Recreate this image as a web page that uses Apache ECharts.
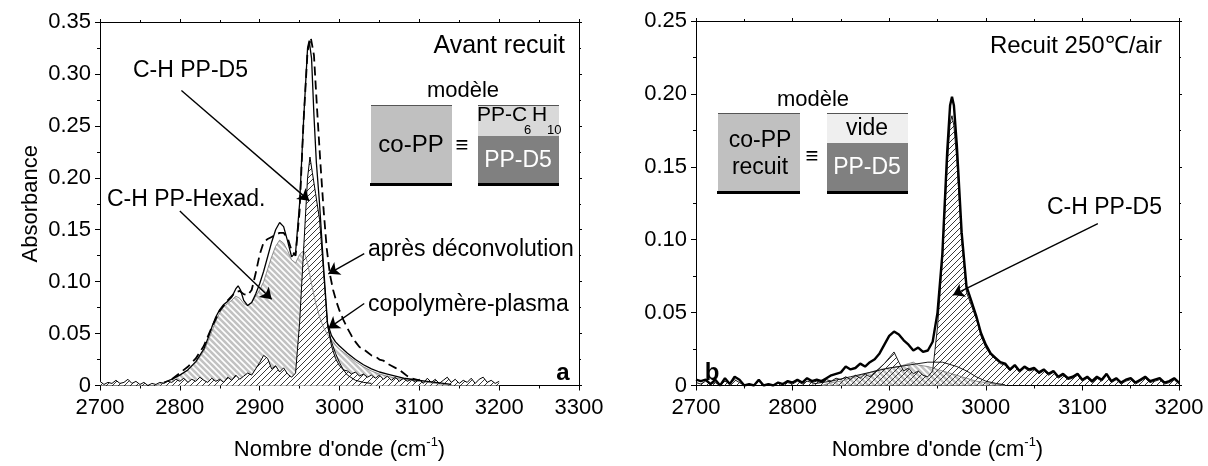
<!DOCTYPE html>
<html><head><meta charset="utf-8">
<script src="https://cdn.jsdelivr.net/npm/echarts@6/dist/echarts.min.js"></script>
<style>html,body{margin:0;padding:0;background:#fff}#c{width:1208px;height:466px}</style>
</head><body><div id="c"></div>
<script>
// ---------- DATA (wavenumber cm-1, absorbance) ----------
// Panel a : "Avant recuit"
const aMeasured = [[2780,0.003],[2790,0.006],[2800,0.010],[2810,0.015],[2820,0.023],[2830,0.035],[2835,0.045],[2840,0.056],[2845,0.066],[2850,0.073],[2855,0.078],[2860,0.081],[2865,0.085],[2870,0.093],[2873,0.096],[2876,0.092],[2880,0.082],[2885,0.077],[2890,0.080],[2895,0.088],[2900,0.098],[2905,0.110],[2910,0.124],[2915,0.138],[2920,0.150],[2925,0.157],[2930,0.153],[2935,0.139],[2940,0.124],[2945,0.128],[2950,0.175],[2955,0.255],[2960,0.325],[2962,0.332],[2965,0.315],[2968,0.260],[2971,0.215],[2975,0.175],[2980,0.115],[2985,0.060],[2990,0.048],[2995,0.042],[3000,0.038],[3010,0.031],[3020,0.025],[3030,0.020],[3040,0.016],[3050,0.013],[3060,0.011],[3070,0.009],[3080,0.007],[3090,0.006],[3100,0.005],[3110,0.004],[3120,0.003],[3130,0.002],[3140,0.001]];
const aDeconv = [[2790,0.006],[2800,0.012],[2810,0.018],[2820,0.026],[2830,0.038],[2840,0.056],[2850,0.072],[2860,0.082],[2870,0.090],[2875,0.091],[2880,0.088],[2885,0.087],[2890,0.092],[2895,0.108],[2900,0.126],[2905,0.138],[2910,0.141],[2915,0.143],[2920,0.145],[2925,0.147],[2930,0.147],[2935,0.142],[2940,0.130],[2945,0.125],[2950,0.168],[2955,0.255],[2960,0.322],[2964,0.335],[2968,0.318],[2972,0.265],[2976,0.215],[2980,0.170],[2984,0.132],[2988,0.107],[2992,0.092],[2996,0.081],[3000,0.072],[3005,0.063],[3010,0.055],[3015,0.048],[3020,0.042],[3025,0.037],[3030,0.035],[3035,0.032],[3040,0.029],[3045,0.028],[3050,0.025],[3055,0.024],[3060,0.021],[3065,0.019],[3070,0.017],[3075,0.015],[3080,0.012],[3085,0.009],[3090,0.007],[3095,0.006],[3100,0.005]];
const aHexad = [[2770,0.000],[2780,0.003],[2790,0.006],[2800,0.010],[2810,0.015],[2820,0.022],[2830,0.033],[2835,0.042],[2840,0.052],[2845,0.062],[2850,0.070],[2855,0.076],[2860,0.079],[2865,0.082],[2870,0.086],[2875,0.084],[2880,0.079],[2885,0.077],[2890,0.080],[2895,0.086],[2900,0.092],[2905,0.100],[2910,0.112],[2915,0.124],[2920,0.134],[2925,0.140],[2930,0.137],[2935,0.130],[2940,0.121],[2945,0.118],[2950,0.126],[2955,0.130],[2960,0.118],[2965,0.098],[2970,0.080],[2975,0.066],[2980,0.056],[2985,0.049],[2990,0.044],[2995,0.039],[3000,0.035],[3010,0.029],[3020,0.023],[3030,0.018],[3040,0.014],[3050,0.011],[3060,0.009],[3070,0.007],[3080,0.006],[3090,0.005],[3100,0.004],[3110,0.003],[3120,0.002],[3130,0.001],[3140,0.000]];
const aD5 = [[2700,0.004],[2705,0.001],[2710,0.003],[2715,0.002],[2720,0.005],[2725,0.002],[2730,0.003],[2735,0.006],[2740,0.002],[2745,0.004],[2750,0.001],[2755,0.003],[2760,0.000],[2765,0.002],[2770,0.001],[2775,0.003],[2780,0.002],[2785,0.004],[2790,0.003],[2795,0.006],[2800,0.004],[2805,0.007],[2810,0.003],[2815,0.006],[2820,0.004],[2825,0.008],[2830,0.005],[2835,0.003],[2840,0.007],[2845,0.004],[2850,0.006],[2855,0.003],[2860,0.008],[2865,0.005],[2870,0.010],[2875,0.006],[2880,0.009],[2885,0.012],[2890,0.010],[2895,0.016],[2900,0.022],[2905,0.029],[2910,0.026],[2915,0.016],[2920,0.019],[2925,0.013],[2930,0.017],[2935,0.011],[2940,0.008],[2945,0.012],[2950,0.060],[2955,0.130],[2960,0.200],[2963,0.220],[2966,0.205],[2970,0.185],[2975,0.160],[2980,0.110],[2985,0.058],[2990,0.038],[2995,0.026],[3000,0.019],[3005,0.015],[3010,0.014],[3015,0.011],[3020,0.013],[3025,0.009],[3030,0.011],[3035,0.008],[3040,0.010],[3045,0.007],[3050,0.010],[3055,0.006],[3060,0.009],[3065,0.005],[3070,0.008],[3075,0.004],[3080,0.007],[3085,0.004],[3090,0.006],[3095,0.003],[3100,0.006],[3105,0.002],[3110,0.007],[3115,0.003],[3120,0.006],[3125,0.002],[3130,0.005],[3135,0.008],[3140,0.003],[3145,0.006],[3150,0.002],[3155,0.005],[3160,0.003],[3165,0.007],[3170,0.002],[3175,0.006],[3180,0.008],[3185,0.003],[3190,0.005],[3195,0.002],[3200,0.004]];
const aD5Fit = [[2985,0.058],[2990,0.042],[2995,0.031],[3000,0.022],[3005,0.015],[3010,0.010],[3020,0.005],[3030,0.003],[3040,0.002]];

// Panel b : "Recuit 250°C/air"
const bMeasured = [[2700,0.004],[2705,0.003],[2710,0.004],[2715,0.001],[2720,0.004],[2725,0.000],[2730,0.005],[2735,0.001],[2740,0.006],[2745,0.004],[2750,0.000],[2755,0.001],[2760,0.000],[2765,0.004],[2770,0.000],[2775,0.001],[2780,0.000],[2785,0.002],[2790,0.001],[2795,0.003],[2800,0.002],[2805,0.004],[2810,0.002],[2815,0.005],[2820,0.003],[2825,0.004],[2830,0.003],[2835,0.005],[2840,0.007],[2845,0.008],[2850,0.009],[2855,0.013],[2860,0.011],[2865,0.012],[2870,0.015],[2875,0.013],[2880,0.016],[2885,0.018],[2890,0.022],[2895,0.028],[2900,0.034],[2905,0.037],[2910,0.035],[2915,0.031],[2920,0.028],[2925,0.024],[2930,0.026],[2935,0.023],[2940,0.024],[2945,0.030],[2950,0.050],[2955,0.090],[2960,0.160],[2963,0.192],[2965,0.198],[2967,0.192],[2970,0.165],[2975,0.105],[2980,0.068],[2985,0.058],[2990,0.048],[2995,0.036],[3000,0.028],[3005,0.022],[3010,0.019],[3015,0.016],[3020,0.015],[3025,0.011],[3030,0.014],[3035,0.010],[3040,0.013],[3045,0.011],[3050,0.012],[3055,0.009],[3060,0.011],[3065,0.008],[3070,0.010],[3075,0.006],[3080,0.008],[3085,0.005],[3090,0.006],[3095,0.008],[3100,0.004],[3105,0.006],[3110,0.003],[3115,0.006],[3120,0.004],[3125,0.008],[3130,0.003],[3135,0.005],[3140,0.002],[3145,0.004],[3150,0.005],[3155,0.002],[3160,0.004],[3165,0.006],[3170,0.003],[3175,0.004],[3180,0.005],[3185,0.002],[3190,0.003],[3195,0.005],[3200,0.002]];
const bD5 = [[2700,0.002],[2705,0.001],[2710,0.003],[2715,0.001],[2720,0.002],[2725,0.000],[2730,0.003],[2735,0.001],[2740,0.004],[2745,0.002],[2750,0.000],[2755,0.001],[2760,0.000],[2765,0.003],[2770,0.000],[2775,0.001],[2780,0.000],[2785,0.002],[2790,0.001],[2795,0.002],[2800,0.001],[2805,0.003],[2810,0.001],[2815,0.003],[2820,0.002],[2825,0.003],[2830,0.002],[2835,0.004],[2840,0.003],[2845,0.005],[2850,0.004],[2855,0.006],[2860,0.004],[2865,0.007],[2870,0.005],[2875,0.008],[2880,0.006],[2885,0.009],[2890,0.012],[2895,0.015],[2900,0.019],[2905,0.023],[2910,0.016],[2915,0.010],[2920,0.012],[2925,0.008],[2930,0.010],[2935,0.007],[2940,0.006],[2945,0.010],[2950,0.040],[2955,0.085],[2960,0.150],[2963,0.180],[2965,0.185],[2967,0.178],[2970,0.155],[2975,0.100],[2980,0.064],[2985,0.055],[2990,0.046],[2995,0.034],[3000,0.026],[3005,0.021],[3010,0.018],[3015,0.015],[3020,0.014],[3025,0.010],[3030,0.013],[3035,0.009],[3040,0.012],[3045,0.010],[3050,0.011],[3055,0.008],[3060,0.010],[3065,0.007],[3070,0.009],[3075,0.005],[3080,0.007],[3085,0.004],[3090,0.005],[3095,0.007],[3100,0.003],[3105,0.005],[3110,0.002],[3115,0.005],[3120,0.003],[3125,0.007],[3130,0.002],[3135,0.004],[3140,0.001],[3145,0.003],[3150,0.004],[3155,0.001],[3160,0.003],[3165,0.005],[3170,0.002],[3175,0.003],[3180,0.004],[3185,0.001],[3190,0.002],[3195,0.004],[3200,0.001]];
const bBroad = [[2830,0.000],[2840,0.002],[2850,0.003],[2860,0.005],[2870,0.007],[2880,0.009],[2890,0.011],[2900,0.012],[2910,0.013],[2920,0.015],[2925,0.016],[2930,0.014],[2940,0.013],[2950,0.011],[2960,0.009],[2970,0.007],[2980,0.005],[2990,0.003],[3000,0.002],[3010,0.001],[3020,0.000]];
const bSmooth = [[2820,0.001],[2840,0.003],[2860,0.006],[2880,0.009],[2900,0.012],[2920,0.014],[2940,0.016],[2955,0.016],[2970,0.013],[2980,0.010],[2990,0.006],[3000,0.003],[3010,0.0015],[3020,0.0005]];

// axis ranges / ticks
const aXRange = [2700, 3300], bXRange = [2700, 3200], xStep = 100;
const aYRange = [0, 0.35], bYRange = [0, 0.25], yStep = 0.05;

// annotation arrows [from, to] in data units
const aArrows = [
  [[2802, 0.284], [2962, 0.178]],
  [[2800, 0.168], [2915, 0.083]],
  [[3031, 0.127], [2986, 0.1075]],
  [[3031, 0.079], [2986, 0.055]]
];
const bArrows = [[[3116, 0.111], [2966, 0.062]]];

// ---------- STYLE ----------
const FONT = '"Liberation Sans", Arial, sans-serif';
function hatch(bg, fg, dir, size, lw) {
  const c = document.createElement('canvas'); c.width = size; c.height = size;
  const g = c.getContext('2d');
  if (bg) { g.fillStyle = bg; g.fillRect(0, 0, size, size); }
  g.strokeStyle = fg; g.lineWidth = lw; g.beginPath();
  if (dir === '/') {
    g.moveTo(0, size); g.lineTo(size, 0);
    g.moveTo(-2, 2); g.lineTo(2, -2);
    g.moveTo(size - 2, size + 2); g.lineTo(size + 2, size - 2);
  } else {
    g.moveTo(0, 0); g.lineTo(size, size);
    g.moveTo(-2, size - 2); g.lineTo(2, size + 2);
    g.moveTo(size - 2, -2); g.lineTo(size + 2, 2);
  }
  g.stroke();
  return c;
}
const grayHatch = { image: hatch('#c2c2c2', '#ffffff', '\\', 6, 1.6), repeat: 'repeat' };
const blackHatchW = { image: hatch('#ffffff', '#222222', '/', 6, 0.9), repeat: 'repeat' };
const blackHatchT = { image: hatch(null, '#222222', '/', 6, 0.9), repeat: 'repeat' };

function xAx(grid, range, main) {
  return {
    type: 'value', gridIndex: grid, min: range[0], max: range[1], interval: xStep,
    position: main ? 'bottom' : 'top',
    axisLine: { show: true, onZero: false, lineStyle: { color: '#000', width: 1 } },
    axisTick: { show: true, inside: false, length: main ? 5 : 3, lineStyle: { color: '#000' } },
    minorTick: { show: true, splitNumber: 2, length: main ? 3 : 2, lineStyle: { color: '#000' } },
    splitLine: { show: false },
    axisLabel: { show: main, color: '#000', fontSize: 22, fontFamily: FONT, margin: 11,
      formatter: v => String(Math.round(v)) },
    name: main ? "Nombre d'onde (cm{sup|-1})" : '',
    nameLocation: 'middle', nameGap: 50,
    nameTextStyle: { color: '#000', fontSize: 22, fontFamily: FONT,
      rich: { sup: { fontSize: 13, fontFamily: FONT, color: '#000', padding: [0, 0, 16, 0] } } }
  };
}
function yAx(grid, range, main, name) {
  return {
    type: 'value', gridIndex: grid, min: range[0], max: range[1], interval: yStep,
    position: main ? 'left' : 'right',
    axisLine: { show: true, onZero: false, lineStyle: { color: '#000', width: 1 } },
    axisTick: { show: true, inside: false, length: main ? 5 : 3, lineStyle: { color: '#000' } },
    minorTick: { show: true, splitNumber: 2, length: main ? 3 : 2, lineStyle: { color: '#000' } },
    splitLine: { show: false },
    axisLabel: { show: main, color: '#000', fontSize: 22, fontFamily: FONT, margin: 9,
      formatter: v => (v === 0 ? '0' : v.toFixed(2)) },
    name: name || '', nameLocation: 'middle', nameGap: 58,
    nameTextStyle: { color: '#000', fontSize: 22, fontFamily: FONT }
  };
}
function arrowLine(arr) {
  return {
    silent: true, animation: false, symbol: ['none', 'arrow'], symbolSize: 11,
    label: { show: false },
    lineStyle: { color: '#000', width: 1.4, type: 'solid' },
    emphasis: { disabled: true },
    data: arr.map(a => [{ coord: a[0] }, { coord: a[1] }])
  };
}
function lineS(xi, data, extra) {
  return Object.assign({
    type: 'line', xAxisIndex: xi, yAxisIndex: xi, data: data, showSymbol: false, symbol: 'none',
    silent: true, animation: false, smooth: false
  }, extra);
}

function txt(t, x, y, size, opts) {
  opts = opts || {};
  return { type: 'text', silent: true, z: 100, style: {
    text: t, x: x, y: y, fill: opts.fill || '#000',
    font: (opts.bold ? 'bold ' : '') + size + 'px ' + FONT,
    textAlign: opts.align || 'center', textVerticalAlign: 'middle' } };
}
function box(x, y, w, h, fill) {
  return { type: 'rect', silent: true, z: 90, shape: { x: x, y: y, width: w, height: h }, style: { fill: fill } };
}
function hl(x1, x2, y, color, w) {
  return { type: 'line', silent: true, z: 95, shape: { x1: x1, y1: y, x2: x2, y2: y }, style: { stroke: color, lineWidth: w } };
}

const chart = echarts.init(document.getElementById('c'), null, { renderer: 'canvas' });
chart.setOption({
  animation: false,
  backgroundColor: '#fff',
  grid: [
    { left: 100, top: 22, width: 479, height: 371 },
    { left: 696, top: 21, width: 483, height: 373 }
  ],
  xAxis: [xAx(0, aXRange, true), xAx(0, aXRange, false), xAx(1, bXRange, true), xAx(1, bXRange, false)],
  yAxis: [yAx(0, aYRange, true, 'Absorbance'), yAx(0, aYRange, false), yAx(1, bYRange, true), yAx(1, bYRange, false)],
  series: [
    // panel a
    lineS(0, aHexad, { lineStyle: { color: '#777', width: 0.8 }, areaStyle: { color: grayHatch, opacity: 1 } }),
    lineS(0, aD5, { lineStyle: { color: '#000', width: 1 }, areaStyle: { color: blackHatchW, opacity: 1 } }),
    lineS(0, aD5Fit, { lineStyle: { color: '#000', width: 1 } }),
    lineS(0, aDeconv, { lineStyle: { color: '#000', width: 1.8, type: [9, 5] } }),
    lineS(0, aMeasured, { lineStyle: { color: '#000', width: 1.3 }, markLine: arrowLine(aArrows) }),
    // panel b
    lineS(2, bBroad, { lineStyle: { color: '#777', width: 0.8 }, areaStyle: { color: grayHatch, opacity: 1 } }),
    lineS(2, bD5, { lineStyle: { color: '#000', width: 0.9 }, areaStyle: { color: blackHatchT, opacity: 1 } }),
    lineS(2, bSmooth, { lineStyle: { color: '#000', width: 0.9 } }),
    lineS(2, bMeasured, { lineStyle: { color: '#000', width: 2.4 }, markLine: arrowLine(bArrows) })
  ],
  graphic: { elements: [
    // panel a texts
    txt('Avant recuit', 565, 46, 25, { align: 'right' }),
    txt('modèle', 463, 91, 22),
    box(371, 105, 81, 79, '#c0c0c0'),
    hl(371, 452, 105.5, '#555', 1),
    box(370, 183, 82, 3, '#000'),
    txt('co-PP', 411, 145, 24),
    txt('≡', 462, 146, 22),
    box(478, 105, 81, 31, '#d9d9d9'),
    box(478, 136, 81, 48, '#808080'),
    hl(478, 559, 105.5, '#555', 1),
    box(478, 183, 81, 3, '#000'),
    txt('PP-C', 477, 115, 21, { align: 'left' }),
    txt('6', 524, 130, 13, { align: 'left' }),
    txt('H', 532, 115, 21, { align: 'left' }),
    txt('10', 547, 130, 13, { align: 'left' }),
    txt('PP-D5', 518, 161, 23, { fill: '#fff' }),
    txt('C-H PP-D5', 133, 71, 23, { align: 'left' }),
    txt('C-H PP-Hexad.', 107, 200, 23, { align: 'left' }),
    txt('après déconvolution', 368, 250, 23, { align: 'left' }),
    txt('copolymère-plasma', 368, 305, 23, { align: 'left' }),
    txt('a', 563, 373, 24, { bold: true }),
    // panel b texts
    txt('Recuit 250℃/air', 1162, 46, 24, { align: 'right' }),
    txt('modèle', 813, 100, 22),
    box(718, 113, 82, 80, '#c0c0c0'),
    hl(718, 800, 113.5, '#555', 1),
    box(717, 191, 83, 3, '#000'),
    txt('co-PP', 760, 141, 23),
    txt('recuit', 760, 168, 23),
    txt('≡', 812, 157, 22),
    box(827, 113, 81, 30, '#efefef'),
    box(827, 143, 81, 50, '#808080'),
    hl(827, 908, 113.5, '#555', 1),
    box(827, 191, 81, 3, '#000'),
    txt('vide', 867, 129, 23),
    txt('PP-D5', 867, 168, 23, { fill: '#fff' }),
    txt('C-H PP-D5', 1047, 208, 23, { align: 'left' }),
    txt('b', 712, 373, 24, { bold: true })
  ] }
});
</script>
</body></html>
